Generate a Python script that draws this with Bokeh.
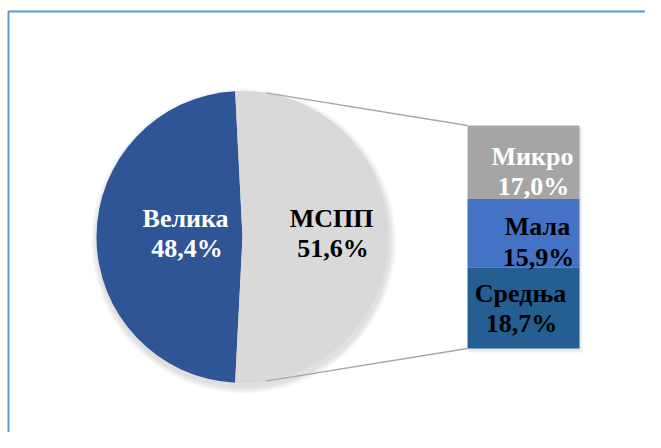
import math
from bokeh.plotting import figure
from bokeh.models import Range1d
from bokeh.core.properties import value
from bokeh.embed import file_html
from bokeh.resources import INLINE

# ---- data ----
main_labels = ["Велика", "МСПП"]
main_values = [48.4, 51.6]
main_colors = ["#2F5597", "#D9D9D9"]
main_text_colors = ["white", "black"]

sub_labels = ["Микро", "Мала", "Средња"]
sub_values = [17.0, 15.9, 18.7]
sub_colors = ["#A5A5A5", "#4472C4", "#255E91"]
sub_text_colors = ["white", "black", "black"]


def pct(v):
    return f"{v:.1f}".replace(".", ",") + "%"


# ---- layout (image pixel space) ----
W, H = 645, 432


def Y(py):
    # image y (downwards) -> data y (upwards)
    return H - py


p = figure(width=W, height=H, output_backend="svg", toolbar_location=None,
           x_range=Range1d(0, W), y_range=Range1d(0, H),
           x_axis_type=None, y_axis_type=None, min_border=0)
p.grid.visible = False
p.outline_line_color = None
p.background_fill_color = "white"
p.border_fill_color = "white"

FONT = value("Liberation Serif")


def txt(x, y, s, col):
    p.text(x=[x], y=[y], text=[s], text_font=FONT, text_font_style="bold",
           text_font_size="26px", text_align="center", text_baseline="alphabetic", text_color=col)


# chart area border (blue)
p.line([8, 8, W + 5], [-5, Y(11), Y(11)], line_color="#5B9BD5", line_width=2)

# pie geometry
cx, cy, r = 242, Y(236.5), 146
total = sum(main_values)
a_mspp = main_values[1] / total * 2 * math.pi
starts = [a_mspp / 2, -a_mspp / 2]
ends = [2 * math.pi - a_mspp / 2, a_mspp / 2]

# soft shadow under pie
for i in range(8):
    p.circle(x=[cx + 1], y=[cy - 4], radius=r + 1 + i * 0.8, fill_color="#808080",
             fill_alpha=0.035, line_color=None)

p.wedge(x=cx, y=cy, radius=r, start_angle=starts, end_angle=ends,
        fill_color=main_colors, line_color=None)

# secondary bar
bx0, bx1 = 467, 579
bar_h = 223
sub_total = sum(sub_values)
k = bar_h / sub_total
bottom_y = cy - bar_h / 2
tops, bottoms = [], []
acc = bottom_y
for v in reversed(sub_values):
    bottoms.insert(0, acc)
    acc += v * k
    tops.insert(0, acc)

# bar shadow
for i in range(4):
    p.quad(left=[bx0 + 1], right=[bx1 + 1 + i * 0.8], top=[tops[0] - 2], bottom=[bottoms[-1] - 2 - i * 0.8],
           fill_color="#808080", fill_alpha=0.05, line_color=None)

p.quad(left=bx0, right=bx1, top=tops, bottom=bottoms, fill_color=sub_colors, line_color=None)


# connector lines: tangents from bar corners to the pie
def tangent_point(px, py):
    dx, dy = px - cx, py - cy
    d = math.hypot(dx, dy)
    base = math.atan2(dy, dx)
    off = math.acos(r / d)
    ang = base + off if dy > 0 else base - off
    return cx + r * math.cos(ang), cy + r * math.sin(ang)


for corner_y in (tops[0], bottoms[-1]):
    tx, ty = tangent_point(bx0, corner_y)
    p.line([tx, bx0], [ty, corner_y], line_color="#A6A6A6", line_width=1.3)

# pie labels
main_mid = [math.pi, 0.0]
main_frac = [0.39, 0.61]
for lab, v, mid, f, col in zip(main_labels, main_values, main_mid, main_frac, main_text_colors):
    lx = cx + f * r * math.cos(mid)
    txt(lx, cy + 18.5, lab, col)
    txt(lx + 1.5, cy - 11.5, pct(v), col)

# bar labels
lab_dx = [9, 14, -3]
lab_dy = [6, 6.5, 15]
for i, (lab, v, col) in enumerate(zip(sub_labels, sub_values, sub_text_colors)):
    mid_y = (tops[i] + bottoms[i]) / 2
    lx = (bx0 + bx1) / 2 + lab_dx[i]
    txt(lx, mid_y + lab_dy[i], lab, col)
    txt(lx + 1, mid_y + lab_dy[i] - 30.5, pct(v), col)

open("out.html", "w").write(file_html(p, INLINE))
